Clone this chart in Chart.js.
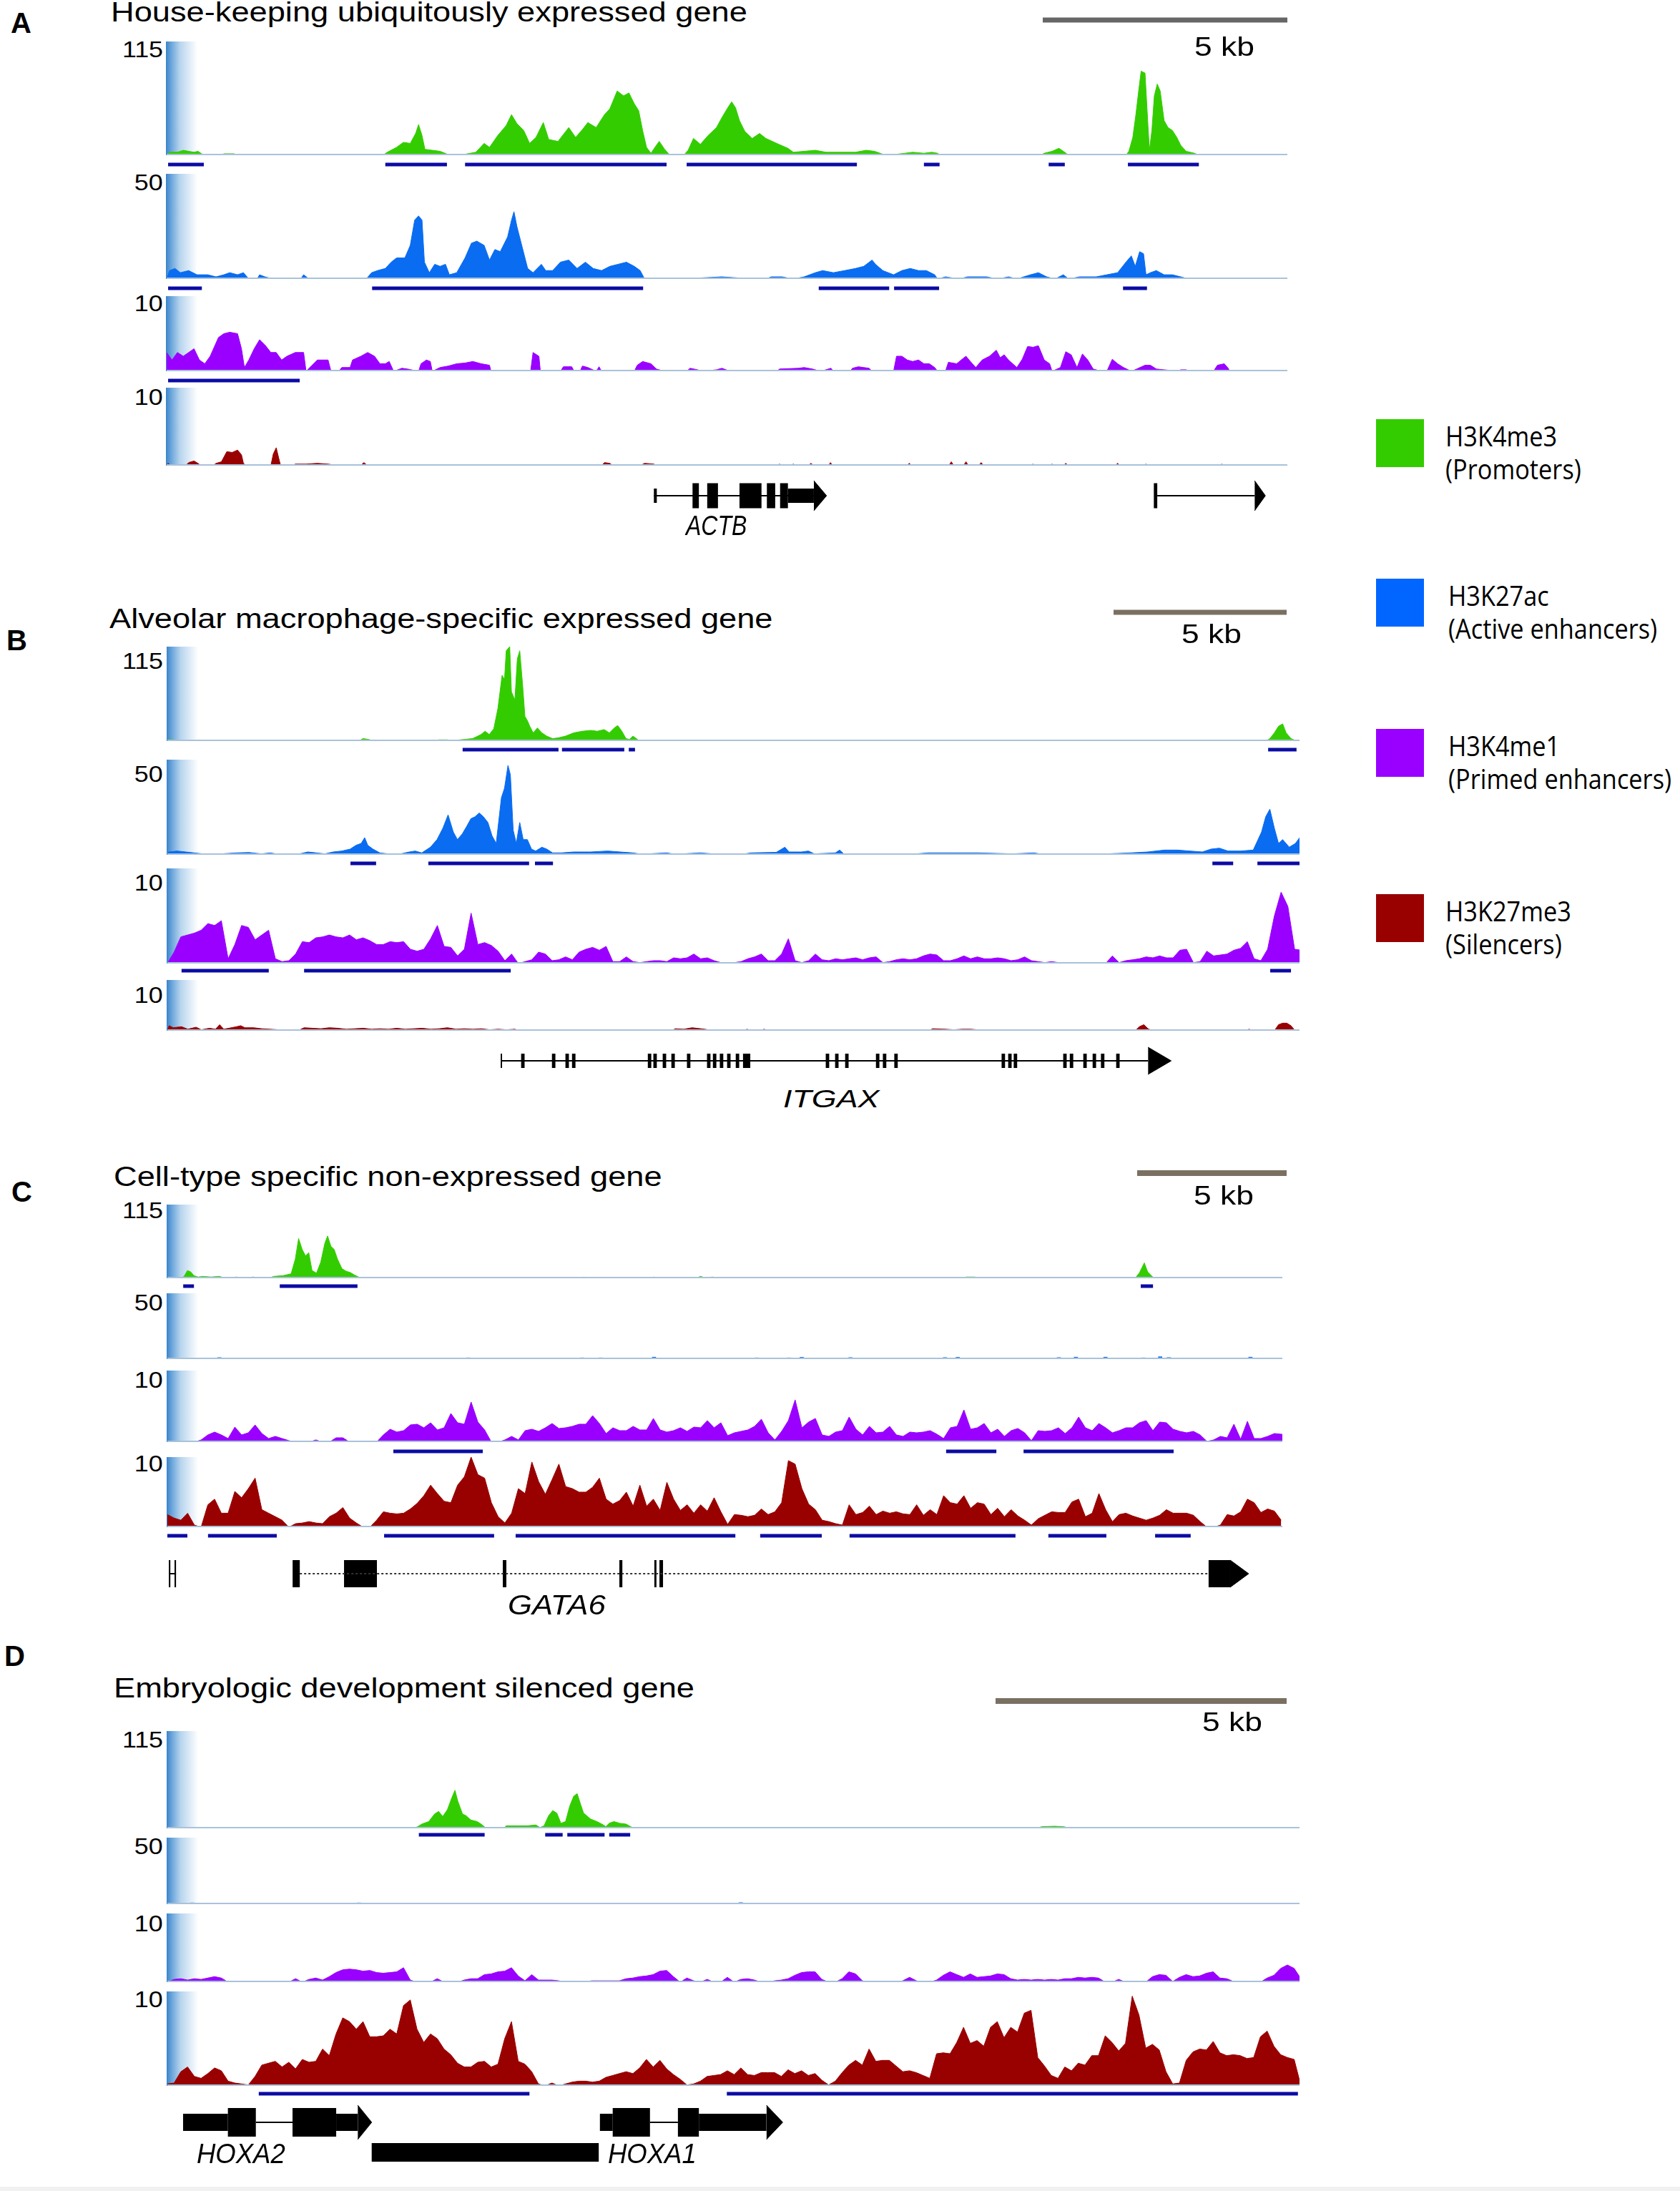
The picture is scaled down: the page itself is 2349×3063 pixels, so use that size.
<!DOCTYPE html>
<html>
<head>
<meta charset="utf-8">
<title>Histone marks at four loci</title>
<script src="https://cdn.jsdelivr.net/npm/chart.js"></script>
<style>
  html, body { margin:0; padding:0; background:#fff; }
  body { position:relative; width:2349px; height:3063px; overflow:hidden; }
  canvas { position:absolute; }
  .txt { position:absolute; white-space:nowrap; line-height:1; color:#000; font-family:"Liberation Sans", Arial, sans-serif; }
  .lg { font-family:"Open Sans", "Noto Sans", sans-serif; }
  .grad { position:absolute; width:44px; background:linear-gradient(to right, #3a84cb 0%, #6fa8dc 18%, #b8d5ee 45%, rgba(255,255,255,0) 100%); }
  .swatch { position:absolute; width:67px; height:67px; }
</style>
</head>
<body>
<script>
// ---- marks ----
var markNames = ['H3K4me3', 'H3K27ac', 'H3K4me1', 'H3K27me3'];
var markRoles = ['(Promoters)', '(Active enhancers)', '(Primed enhancers)', '(Silencers)'];
var markColors = ['#33cc00', '#0a6cf0', '#9900ff', '#990000'];
var legendColors = ['#33cc00', '#0066ff', '#9900ff', '#990000'];
var trackMax = [115, 50, 10, 10];
var maxLabels = ['115', '50', '10', '10'];
var panelLetters = ['A', 'B', 'C', 'D'];
var panelTitles = ['House-keeping ubiquitously expressed gene', 'Alveolar macrophage-specific expressed gene',
  'Cell-type specific non-expressed gene', 'Embryologic development silenced gene'];
var scaleBarKb = 5;

// ---- panel A (ACTB window), x in kb from window start ----
var aGreen = [[0,0],[0.06,3],[0.22,3],[0.34,5],[0.45,4],[0.56,3],[0.64,4],[0.73,1],[0.78,0],[1.12,0],[1.17,1.5],[1.38,1.5],[1.42,0],[4.42,0],[4.51,3],[4.70,8],[4.84,13],[4.98,12],[5.09,22],[5.15,31],[5.22,20],[5.28,6],[5.43,5],[5.59,4],[5.74,1],[6.10,1],[6.32,3],[6.49,12],[6.60,8],[6.77,20],[6.94,30],[7.05,41],[7.16,32],[7.30,25],[7.42,12],[7.55,18],[7.70,33],[7.81,16],[8.00,14],[8.22,28],[8.36,18],[8.50,26],[8.61,33],[8.78,28],[8.95,41],[9.06,47],[9.21,65],[9.34,60],[9.45,63],[9.56,52],[9.65,45],[9.73,25],[9.81,8],[9.90,2],[10.01,10],[10.07,14],[10.18,6],[10.29,0],[10.57,0],[10.66,5],[10.77,17],[10.91,11],[11.07,20],[11.24,28],[11.35,38],[11.47,48],[11.55,54],[11.63,48],[11.71,35],[11.82,24],[11.97,17],[12.12,22],[12.25,17],[12.47,12],[12.70,7],[12.81,3],[13.03,4],[13.26,5],[13.48,3],[13.86,3],[14.08,3],[14.30,5],[14.47,4],[14.64,1],[14.75,0],[15.09,2],[15.25,3],[15.48,2],[15.64,3],[15.76,2],[15.81,0],[16.87,0],[16.91,1],[16.96,0],[17.86,0],[17.94,2],[18.10,4],[18.24,7],[18.33,4],[18.44,0],[19.61,0],[19.67,4],[19.75,18],[19.81,40],[19.87,65],[19.92,85],[20.00,83],[20.06,30],[20.09,5],[20.14,25],[20.19,60],[20.25,72],[20.31,65],[20.39,35],[20.47,28],[20.56,25],[20.65,18],[20.73,10],[20.84,4],[21.01,2],[21.10,0],[22.9,0]];
var aBlue = [[0,0],[0.06,4],[0.17,5],[0.28,3],[0.45,4],[0.62,2],[0.84,2],[1.01,1],[1.17,2],[1.29,3],[1.45,2],[1.57,3],[1.68,0],[1.85,0],[1.90,2],[2.01,1],[2.18,0],[2.74,0],[2.80,2],[2.91,0],[4.08,0],[4.19,3],[4.31,4],[4.47,5],[4.59,8],[4.70,10],[4.87,10],[4.98,16],[5.07,28],[5.15,30],[5.22,28],[5.27,8],[5.37,3],[5.48,7],[5.59,6],[5.70,7],[5.78,2],[5.93,3],[6.10,10],[6.23,17],[6.34,18],[6.49,16],[6.60,9],[6.71,14],[6.82,13],[6.97,20],[7.05,28],[7.10,32],[7.16,25],[7.27,15],[7.38,5],[7.49,3],[7.66,7],[7.75,4],[7.89,4],[8.05,8],[8.22,9],[8.39,5],[8.56,8],[8.72,5],[8.89,4],[9.06,6],[9.23,7],[9.40,8],[9.56,6],[9.68,4],[9.77,0],[9.96,0.5],[10.18,0],[10.68,0],[10.91,0.5],[11.35,1],[11.69,0.5],[11.80,0],[12.25,0],[12.36,1],[12.58,1],[12.81,0],[13.03,1],[13.26,3],[13.41,4],[13.63,3],[13.86,4],[14.08,5],[14.25,6],[14.42,9],[14.49,7],[14.64,4],[14.75,3],[14.86,2],[15.03,4],[15.20,5],[15.37,4],[15.53,4],[15.70,2],[15.76,0],[15.92,1],[16.20,0],[16.37,1],[16.54,1],[16.76,1],[16.99,0],[17.21,1],[17.38,0],[17.66,2],[17.82,3],[17.99,1],[18.16,0],[18.33,2],[18.44,0],[18.66,1],[19.00,1],[19.22,2],[19.44,3],[19.61,8],[19.72,11],[19.80,6],[19.89,13],[19.97,12],[20.02,2],[20.11,3],[20.23,4],[20.39,2],[20.56,2],[20.73,1],[20.90,0],[22.9,0]];
var aPurple = [[0,2.5],[0.11,1.5],[0.22,2.5],[0.34,2],[0.45,2.5],[0.56,3],[0.67,1.5],[0.78,1],[0.89,2],[1.06,4.5],[1.17,5],[1.29,5.2],[1.45,5],[1.53,3],[1.59,0.5],[1.68,1.5],[1.79,3],[1.90,4.2],[2.01,3.5],[2.13,2.5],[2.24,2.5],[2.35,1.5],[2.46,2],[2.63,2.5],[2.80,2.5],[2.85,0],[3.08,1.5],[3.30,1.5],[3.36,0],[3.52,0],[3.58,0.5],[3.75,0.5],[3.80,1.5],[3.97,2],[4.11,2.5],[4.25,2],[4.36,1],[4.47,1],[4.55,1.3],[4.64,0],[4.81,0.4],[4.92,0.3],[5.15,0],[5.20,1],[5.31,1.5],[5.39,1.3],[5.43,0],[5.59,0.5],[5.76,0.7],[5.93,1],[6.10,1.1],[6.26,1.3],[6.43,1],[6.60,0.8],[6.63,0],[7.44,0],[7.49,2.5],[7.61,2],[7.64,0],[8.05,0],[8.11,0.6],[8.28,0.6],[8.33,0],[8.45,0],[8.50,0.7],[8.61,0.5],[8.78,0],[8.84,0.6],[8.89,0],[9.56,0],[9.62,0.8],[9.73,1.3],[9.90,1],[10.01,0.3],[10.18,0],[10.63,0],[10.70,0.4],[10.85,0.2],[10.96,0],[11.24,0.2],[11.35,0.4],[11.52,0],[12.47,0],[12.53,0.3],[12.92,0.4],[13.03,0.5],[13.20,0.3],[13.37,0],[13.58,0.4],[13.63,0],[13.97,0],[14.02,0.4],[14.14,0.6],[14.25,0.5],[14.36,0.4],[14.42,0],[14.86,0],[14.92,2],[15.03,2],[15.14,1.5],[15.25,1.3],[15.37,1.5],[15.48,1],[15.59,1],[15.70,0.5],[15.76,0],[15.92,0],[15.98,1.2],[16.15,1],[16.26,1.6],[16.34,2],[16.43,1.3],[16.54,0.5],[16.67,1.5],[16.82,2],[16.96,2.8],[17.04,1.8],[17.12,2.2],[17.21,1.5],[17.38,0.5],[17.49,1.6],[17.60,3.3],[17.71,3.2],[17.82,3.4],[17.94,1.5],[18.05,1],[18.10,0],[18.27,0.5],[18.38,2.6],[18.49,2.2],[18.61,0.5],[18.72,2.3],[18.83,1.5],[18.94,0.3],[19.11,0],[19.22,0],[19.33,1.6],[19.44,1],[19.56,0.5],[19.72,0],[19.83,0.3],[20.00,0.8],[20.11,0.8],[20.23,0.3],[20.39,0.2],[20.67,0],[20.73,0.2],[20.84,0.2],[20.90,0],[21.40,0],[21.48,0.8],[21.62,1],[21.70,0.4],[21.73,0],[22.9,0]];
var aRed = [[0,0],[0.03,0.3],[0.08,0],[0.39,0],[0.45,0.4],[0.56,0.6],[0.64,0.3],[0.70,0],[0.95,0],[1.01,0.3],[1.12,0.5],[1.23,1.8],[1.34,1.7],[1.45,2],[1.53,1.4],[1.57,0.3],[1.62,0],[2.13,0],[2.18,1.5],[2.24,2.3],[2.29,1],[2.33,0],[2.57,0],[2.63,0.2],[2.85,0.2],[3.08,0.3],[3.30,0.2],[3.52,0],[3.97,0],[4.03,0.4],[4.11,0],[8.89,0],[8.95,0.4],[9.06,0.3],[9.12,0],[9.68,0],[9.77,0.3],[9.96,0.2],[10.01,0],[12.47,0],[12.53,0.2],[12.58,0],[12.75,0],[12.81,0.2],[12.86,0],[13.12,0],[13.17,0.3],[13.23,0],[13.53,0],[13.57,0.4],[13.61,0],[15.13,0],[15.18,0.3],[15.23,0],[15.99,0],[16.04,0.5],[16.09,0],[16.29,0],[16.34,0.5],[16.39,0],[16.60,0],[16.65,0.4],[16.70,0],[17.66,0],[17.71,0.2],[17.76,0],[18.05,0],[18.10,0.2],[18.15,0],[18.33,0],[18.38,0.3],[18.43,0],[19.39,0],[19.44,0.3],[19.49,0],[19.97,0],[20.02,0.2],[20.07,0],[21.52,0],[21.57,0.2],[21.62,0],[22.9,0]];
var aPeaksGreen = [[0.03,0.76],[4.47,5.73],[6.10,10.22],[10.63,14.11],[15.48,15.80],[18.03,18.36],[19.65,21.10]];
var aPeaksBlue = [[0.03,0.72],[4.20,9.74],[13.33,14.77],[14.87,15.79],[19.55,20.04]];
var aPeaksPurple = [[0.03,2.72]];
var actbIntron = [[9.96,13.23],[20.25,22.24]];
var actbUtr = [[9.96,10.02],[12.70,13.23]];
var actbExon = [[10.75,10.88],[11.05,11.27],[11.71,12.16],[12.27,12.44],[12.54,12.70],[20.18,20.25]];
var actbArrow = [[13.23,13.49],[22.24,22.46]];

// ---- panel B (ITGAX window) ----
var bGreen = [[0,0],[0.04,2],[0.28,1],[0.41,0],[0.98,0],[1.02,0.8],[1.06,0],[2.58,0],[2.62,0.8],[2.66,0],[3.54,0],[3.60,1.2],[4.18,1],[4.23,0],[5.53,0],[5.65,3],[5.82,2],[5.96,0],[7.72,0],[7.84,1.5],[8.09,1.5],[8.21,0],[8.45,1.5],[8.82,3],[9.06,8],[9.18,12],[9.30,8],[9.43,15],[9.55,40],[9.67,80],[9.74,75],[9.79,110],[9.89,115],[9.94,60],[10.04,50],[10.11,100],[10.18,110],[10.26,70],[10.33,30],[10.40,25],[10.47,18],[10.57,10],[10.69,16],[10.82,10],[10.96,6],[11.13,3],[11.30,4],[11.50,6],[11.74,10],[11.99,12],[12.23,13],[12.42,12],[12.62,14],[12.77,10],[12.91,16],[13.01,19],[13.13,12],[13.25,3],[13.35,2],[13.45,6],[13.55,3],[13.64,0],[13.94,0],[14.18,1],[14.42,1],[14.55,0],[30.88,0],[31.00,1],[31.12,0],[31.73,0],[31.85,3],[31.98,10],[32.10,18],[32.22,21],[32.32,10],[32.46,3],[32.63,0],[32.71,0]];
var bBlue = [[0,0],[0.04,1.5],[0.28,2],[0.53,1.5],[0.77,1],[1.02,0.5],[1.38,0.3],[1.99,1],[2.36,1.2],[2.72,0.5],[2.97,1],[3.21,0.3],[3.82,0.5],[4.06,1.5],[4.31,1],[4.55,0.5],[4.79,1.5],[5.04,2],[5.28,3],[5.45,5],[5.60,6],[5.70,9],[5.79,5],[5.94,3],[6.14,1],[6.38,0.5],[6.74,0.5],[6.99,1.5],[7.16,2],[7.35,1],[7.60,4],[7.79,8],[7.96,14],[8.11,21],[8.26,12],[8.38,8],[8.52,11],[8.65,15],[8.77,19],[8.89,20],[9.01,22],[9.13,20],[9.26,17],[9.38,10],[9.50,6],[9.65,30],[9.74,35],[9.84,47],[9.91,42],[9.99,13],[10.08,6],[10.18,17],[10.28,8],[10.40,8],[10.52,3],[10.64,2],[10.82,4],[10.96,3],[11.13,1],[11.38,1],[11.74,1.5],[12.23,1.5],[12.72,2],[13.08,1.5],[13.45,1],[13.69,0.3],[14.42,1],[14.67,0.3],[15.40,1],[15.89,0.3],[16.62,0.3],[16.86,1],[17.59,1.3],[17.84,4],[17.96,1.5],[18.32,1.5],[18.52,2],[18.69,0.5],[19.30,1],[19.42,2.5],[19.54,0.5],[20.28,0.5],[21.49,0.3],[21.98,1],[22.71,1],[23.44,1],[24.42,0.5],[25.03,1],[25.27,0.3],[26.86,0.3],[27.83,1],[28.32,1.5],[28.81,2.5],[29.17,2.5],[29.54,2],[29.90,1.5],[30.15,3],[30.39,3.5],[30.64,2],[31.00,2],[31.37,2.5],[31.61,12],[31.73,20],[31.85,24],[31.98,14],[32.10,6],[32.22,8],[32.41,4],[32.59,6],[32.71,9]];
var bPurpleStep = 0.195;
var bPurple = [0,1.2,2.8,3,3.2,3.5,4.2,4,4.5,0.5, 2,4,3.8,2.5,3,3.5,0.5,0.2,0.3,1, 2.3,2.2,2.7,2.8,3,2.8,2.7,3,2.5,2.7,
  2.4,2,2,2.3,2.2,2.3,1.5,1.3,1.5,2.6, 4,1.8,1.7,0.8,1.5,5.3,2,2.2,1.9,1.3, 0.3,1,0,0.2,0.4,1.2,1,0.3,0.4,0.7,
  0.4,1.2,1.5,1.7,1.4,1.8,0.2,0.2,0.7,0.2, 0.1,0.2,0.3,0.3,0.2,0.6,0.5,0.6,1,0.5, 0.6,0.3,0.1,0.1,0.1,0.2,0.5,0.7,1,0.3,
  0.3,1,2.6,0.3,0.1,0.3,1,0.4,0.3,0.5, 0.4,0.5,0.6,0.4,0.6,0.7,0.1,0.2,0.4,0.5, 0.4,0.5,0.8,1,0.9,0.3,0.3,0.5,0.8,0.5,
  0.7,0.5,0.5,0.6,0.5,0.3,0.4,0.7,0.3,0.2, 0.1,0.2,0.1,0.1,0,0,0,0,0,0, 0.8,0.1,0.3,0.4,0.5,0.7,0.6,0.8,0.6,0.6,
  1.4,1.5,0.1,0.2,1.3,0.8,0.9,1,1.4,1.6, 2.3,0.5,0.3,1.5,5,7.5,6,1.5,1.4];
var bRed = [[0,0],[0.05,1],[0.17,0.6],[0.41,0.8],[0.59,0.3],[0.83,0.7],[0.98,0.2],[1.22,0.5],[1.39,0.3],[1.51,1.2],[1.63,0.3],[2.00,0.8],[2.12,1],[2.24,0.6],[2.49,0.6],[2.73,0.4],[2.97,0.3],[3.22,0.2],[3.46,0.1],[3.83,0.2],[3.95,0.6],[4.19,0.5],[4.44,0.4],[4.68,0.6],[4.92,0.5],[5.17,0.3],[5.41,0.4],[5.66,0.5],[5.90,0.3],[6.14,0.4],[6.39,0.3],[6.63,0.5],[6.87,0.3],[7.12,0.4],[7.36,0.5],[7.61,0.3],[7.85,0.4],[8.09,0.6],[8.34,0.3],[8.58,0.4],[8.83,0.3],[9.07,0.4],[9.31,0.2],[9.56,0.3],[9.80,0.2],[10.04,0.3],[10.17,0],[11.38,0],[11.46,0.2],[11.56,0],[14.55,0],[14.68,0.4],[14.92,0.3],[15.16,0.6],[15.53,0.3],[15.77,0],[16.63,0],[16.75,0.3],[16.87,0],[17.11,0],[17.24,0.3],[17.36,0],[20.53,0],[20.65,0.2],[20.77,0],[21.99,0],[22.11,0.4],[22.48,0.3],[22.72,0.2],[22.96,0.3],[23.21,0.3],[23.40,0.2],[23.70,0],[27.96,0],[28.08,0.8],[28.21,1.2],[28.33,0.4],[28.45,0],[29.18,0],[29.30,0.2],[29.42,0],[29.79,0],[29.91,0.2],[30.03,0],[30.52,0],[30.64,0.2],[30.77,0],[31.13,0],[31.25,0.3],[31.37,0],[31.98,0],[32.10,1.2],[32.22,1.5],[32.34,1.5],[32.46,1],[32.58,0],[32.71,0]];
var bPeaksGreen = [[8.53,11.30],[11.40,13.20],[13.33,13.51],[31.80,32.62]];
var bPeaksBlue = [[5.29,6.03],[7.54,10.45],[10.62,11.14],[30.19,30.79],[31.49,32.71]];
var bPeaksPurple = [[0.41,2.93],[3.95,9.92],[31.86,32.46]];
var itgaxIntron = [[9.65,28.33]];
var itgaxExon = [[9.63,9.67],[10.22,10.32],[11.11,11.21],[11.50,11.60],[11.69,11.79],[13.88,13.98],[14.04,14.14],[14.31,14.41],[14.56,14.66],[15.01,15.11],[15.59,15.69],[15.76,15.86],[15.96,16.06],[16.17,16.27],[16.42,16.52],[16.63,16.84],[19.02,19.12],[19.29,19.39],[19.58,19.68],[20.47,20.57],[20.67,20.77],[21.00,21.10],[24.10,24.20],[24.29,24.39],[24.45,24.55],[25.88,25.98],[26.07,26.17],[26.46,26.56],[26.73,26.83],[26.97,27.07],[27.41,27.51]];
var itgaxArrow = [[28.33,29.0]];

// ---- panel C (GATA6 window) ----
var cGreen = [[0,0],[0.47,0],[0.56,3],[0.67,12],[0.78,10],[0.89,4],[1.03,2],[1.18,3],[1.46,2],[1.74,3],[1.88,1],[2.17,1],[2.31,2],[2.59,0.5],[2.87,2],[3.01,1],[3.43,1],[3.57,3],[3.86,4],[4.14,7],[4.28,30],[4.39,62],[4.51,45],[4.62,35],[4.73,40],[4.84,12],[4.99,8],[5.13,25],[5.27,55],[5.36,66],[5.47,50],[5.58,45],[5.69,30],[5.84,15],[5.98,11],[6.12,9],[6.26,5],[6.40,2],[6.54,0],[8.66,0],[8.80,1],[8.94,0],[10.07,0],[10.21,1.5],[10.35,0],[11.20,0],[11.28,1],[11.37,0],[12.04,0],[12.13,1],[12.21,0],[13.82,0],[13.93,2],[14.05,0],[16.14,0],[16.28,2],[16.42,0],[17.69,0],[17.83,3],[17.97,1],[18.25,2],[18.39,0],[20.79,0],[20.90,1],[21.02,0],[26.58,0],[26.72,2],[27.00,2],[27.14,1],[27.43,1],[27.57,0],[32.37,0],[32.51,8],[32.68,24],[32.79,10],[32.96,2],[33.08,0],[37.3,0]];
var cBlue = [[1.74,1.2],[7.81,0.5],[8.74,0.5],[10.07,1],[10.49,0.8],[13.87,1],[14.16,0.8],[14.49,1],[15.29,0.6],[16.28,1.5],[16.70,0.8],[17.83,0.5],[18.05,0.5],[19.18,0.5],[19.72,1],[20.79,1],[21.22,1.4],[21.50,0.8],[22.06,0.8],[22.85,1.2],[23.47,0.6],[24.66,0.5],[25.16,0.5],[26.01,1.2],[26.44,1.4],[28.70,0.6],[29.26,0.8],[29.82,1.2],[30.39,1.5],[31.38,1.5],[31.94,0.8],[32.65,1],[33.21,1.8],[33.50,1.2],[34.06,0.6],[34.48,0.5],[35.61,0.8],[36.23,1.5],[36.74,0.5]];
var cStep = 0.2258;
var cPurple = [0,0,0,0,0,0.3,1,1.4,1,0.5, 2.1,1,1.3,2.4,1.2,0.5,0.8,0.5,0.2,0, 0,0,0.3,0,0,0.6,0.6,0,0,0,
  0,0,1,1.8,1.4,1.6,2.4,2.5,2,2.7, 1.7,2,4,2.7,2.5,5.6,2.8,1.7,0,0, 0.3,0.8,0.3,1.6,1.8,1.5,2,2.6,1.9,2,
  2.2,2.5,2.5,3.7,2.6,1.2,2,1.6,1.6,2.2, 1.7,1.7,3.3,1.7,1.4,1.6,2,1.5,2.1,2, 3,2,2.7,0.9,1.3,1.5,1.7,2.2,3.2,1.3,
  0.3,1.5,3,5.9,2,2.8,3.3,1,0.8,1.4, 1.6,3.5,1.8,1,2.2,1.3,1.4,2.2,1,0.8, 1.4,1.3,1.4,1.6,1.1,0.5,2,2.2,4.5,1.8,
  2,2.6,1.3,1.8,0.8,1.6,1.9,1.3,0.2,1.6, 1.5,1.6,2,1.2,2,3.5,2,1.6,2.6,2, 1.3,1.6,2,2,2.7,3,1.6,2.8,2.7,1.8,
  1.5,1.3,1.5,1,0.1,0.3,0.8,0.6,2.5,0.4, 2.9,0.5,0.5,0.8,1.2,1.1,1];
var cRed = [1.8,1.3,1,2,0.3,0,3.2,4,2,2, 5.1,4.2,5.5,7,2.5,2,1.5,1,0,0.5, 0.6,0.8,0.6,0.5,1.5,2,2.8,1.3,0.6,0,
  0,1,2.2,2,1.9,2,2.6,3.4,4.5,6, 4.8,3.7,3.5,6,7.2,10,7.5,7,3.5,1.5, 0.6,2,5.5,4.8,9.3,6.5,4.7,6.8,9,5.8,
  5.5,5,5,5.7,7,4,3.3,3.8,5,3, 6,3,4,2.4,6.4,4,2.4,3.2,2,3.2, 2.3,4.2,2.2,0.4,1.8,1.7,1.5,1.7,2.6,1.8,
  2.2,3.5,9.5,9,5.5,3.3,2.5,1,0.8,0.5, 0.3,3.2,1.8,2.1,3,1.8,2.3,2,2.2,1.9, 1.8,3.2,1.7,2.5,1.8,4.5,3.5,3.3,4.5,2.7,
  3.5,3.3,1.8,2.7,1.5,2.5,1.6,1,0.3,1.2, 1.7,2.2,2.1,2.1,3.6,4,1.5,2,4.8,2.5, 0.8,1.8,2,1.6,1.3,1,1.3,1.7,2.5,2,
  2,2,1.7,0.8,0,0,0.3,1.8,1.6,2.2, 4,3.5,2.1,2.6,2.3,1];
var cPeaksGreen = [[0.53,0.89],[3.76,6.36],[32.56,32.97]];
var cPeaksPurple = [[7.56,10.55],[26.05,27.73],[28.64,33.66]];
var cPeaksRed = [[0,0.67],[1.36,3.66],[7.25,10.93],[11.65,19.00],[19.83,21.89],[22.82,28.37],[29.47,31.41],[33.04,34.23]];
var gata6Intron = [[0.05,0.29]];
var gata6Dotted = [[4.43,34.83]];
var gata6Exon = [[0.05,0.10],[0.24,0.29],[4.19,4.43],[5.91,7.01],[11.22,11.34],[15.12,15.22],[16.29,16.36],[16.46,16.58],[34.83,35.55]];
var gata6Arrow = [[35.55,36.17]];

// ---- panel D (HOXA1/HOXA2 window) ----
var dGreen = [[0,0],[1.98,0],[2.02,1],[2.07,0],[3.55,0],[3.60,1],[3.68,0],[4.11,0],[4.16,1],[4.23,0],[4.30,2],[4.37,5],[4.49,8],[4.59,17],[4.66,20],[4.73,14],[4.81,22],[4.88,35],[4.94,45],[4.99,32],[5.07,17],[5.13,15],[5.21,10],[5.32,8],[5.39,5],[5.46,1],[5.53,0],[5.78,0],[5.82,3],[6.04,3],[6.18,3],[6.33,4],[6.40,1],[6.47,3],[6.55,15],[6.62,21],[6.69,18],[6.76,6],[6.84,8],[6.91,26],[6.98,38],[7.04,41],[7.10,28],[7.15,18],[7.27,11],[7.38,8],[7.49,4],[7.53,2],[7.59,6],[7.67,8],[7.77,6],[7.88,5],[7.96,2],[8.02,0],[8.14,1],[8.28,1],[8.36,0],[8.50,1],[8.57,0],[11.04,0],[11.08,1],[11.14,0],[12.42,0],[12.46,1],[12.50,0],[14.92,0],[15.02,2],[15.24,2.5],[15.39,2],[15.53,0],[19.45,0]];
var dBlue = [[0.43,1],[0.53,0.5],[3.14,0.8],[3.29,1],[3.43,0.5],[3.72,0.8],[3.94,0.5],[4.16,0.7],[4.81,0.6],[6.69,0.4],[8.21,0.4],[9.85,1.2],[9.95,0.8],[10.10,0.5],[10.68,0.6],[11.16,0.5],[11.80,0.8],[14.95,0.5]];
var dStep = 0.1159;
var dPurple = [0,0.4,0.5,0.3,0.5,0.4,0.6,0.8,0.6,0, 0,0,0,0,0,0,0,0,0,0.5, 0,0.4,0.6,0.3,0.8,1.4,1.8,1.9,1.8,1.6,
  1.7,1.4,1.3,1.4,1.5,2.1,0.3,0,0,0, 0.5,0,0,0,0.3,0.5,0.5,1.1,1.2,1.5, 1.6,2.1,0.9,0.2,1.1,0.3,0.3,0.3,0.2,0,
  0,0.1,0.1,0.2,0.2,0.2,0.2,0.2,0.5,0.6, 0.8,0.9,1.1,1.6,1.7,0.8,0,0.6,0.2,0, 0.4,0,0,0.7,0,0.4,0.5,0.3,0,0,
  0.2,0.3,0.5,1,1.4,1.5,1.5,0.4,0,0, 0.5,1.5,1.2,0.2,0,0,0,0.1,0,0.2, 0.7,0.2,0,0,0.3,1,1.5,1.1,0.7,1.2,
  0.7,0.8,0.9,1.2,1.1,0.5,0.3,0.4,0.3,0.4, 0.3,0.4,0.3,0.5,0.5,0.7,0.6,0.7,0.6,0, 0,0.4,0,0,0,0,0.8,1.1,1,0.1,
  0.7,1.1,0.8,0.9,1.3,1.5,0.6,0.5,0.1,0, 0,0,0,0.6,1,2,2.5,2,0.5];
var dRed = [0.2,0.3,1.5,2,1,0.8,1.3,1.9,1.6,0.5, 0.3,0.2,0.1,1,2.2,2.4,2.6,2,2.5,1.8, 2.8,2.5,2.6,3.9,3.2,5.5,7.2,6.8,6,6.8,
  5.2,5.2,5.3,6,5.5,8.5,9.1,6,4.6,5.5, 5,3.9,3.3,2.4,2,2,2.5,2.6,2,2.3, 5,6.8,2.6,2.3,1.5,0.2,0,0.3,0,0.2,
  0.4,0.5,0.5,0.4,0.5,0.9,1.1,1.3,1.5,1.3, 1.9,2.8,2,2.7,1.8,1.2,0.7,0.1,0.2,0.5, 1,1.1,1.2,1.6,1.2,1.9,1.2,1.1,1.4,1.4,
  1.4,1,1.7,1.3,1.6,1.1,1.3,0.6,0.1,0.5, 1.4,2.2,2.7,2.2,3.9,2.6,2.7,2.7,2.1,1.5, 1.6,1.4,1.1,0.8,3.4,3.5,3.4,4.6,6.2,4.5,
  4.8,4.2,6.2,6.8,5.1,6.2,5.7,7.7,8,3, 2.1,1.1,0.8,2,1.6,2.4,2.2,3.2,3.2,5.3, 4.6,3.7,4.5,9.5,7.5,4,4.4,3.8,1.5,0.2,
  0.3,2.7,3.6,3.9,3.8,4.7,3.5,3.2,3.3,3.2, 2.9,3,5.2,5.8,4.2,3.3,3,2.8,0];
var dPeaksGreen = [[4.32,5.45],[6.49,6.79],[6.87,7.51],[7.59,7.95]];
var dPeaksRed = [[1.57,6.22],[9.61,19.42]];
var hoxIntron = [[1.52,2.15],[8.29,8.77]];
var hoxUtr = [[0.27,1.04],[2.90,3.27],[7.43,7.65],[9.13,10.29]];
var hoxCds = [[1.04,1.52],[2.15,2.90],[7.65,8.29],[8.77,9.13]];
var hoxArrow = [[3.27,3.51],[10.29,10.57]];
var hoxBlock = [[3.51,7.41]];
var geneNames = ['ACTB', 'ITGAX', 'GATA6', 'HOXA2', 'HOXA1'];

// ---------- helpers ----------
function pairs(p) { return p.map(function (d) { return {x: d[0], y: d[1]}; }); }
function steps(v, step) { return v.map(function (y, i) { return {x: i * step, y: y}; }); }

function newCanvas(x, y, w, h) {
  var c = document.createElement('canvas');
  c.width = Math.round(w); c.height = Math.round(h);
  c.style.left = x + 'px'; c.style.top = y + 'px';
  c.style.width = Math.round(w) + 'px'; c.style.height = Math.round(h) + 'px';
  document.body.appendChild(c);
  return c;
}

function quiet(xmax, ymin, ymax) {
  return {
    responsive: false, animation: false, devicePixelRatio: 1, events: [],
    layout: {padding: 0},
    plugins: {legend: {display: false}, tooltip: {enabled: false}},
    scales: {
      x: {type: 'linear', min: 0, max: xmax, display: false, offset: false},
      y: {type: 'linear', min: ymin, max: ymax, display: false}
    }
  };
}

var baseline = {
  id: 'baseline',
  afterDatasetsDraw: function (chart) {
    var ctx = chart.ctx, a = chart.chartArea, y = chart.scales.y.getPixelForValue(0);
    ctx.save();
    ctx.strokeStyle = '#a9c2d9'; ctx.lineWidth = 2;
    ctx.beginPath(); ctx.moveTo(a.left, y - 1); ctx.lineTo(a.right, y - 1); ctx.stroke();
    ctx.restore();
  }
};

function addText(str, x, base, size, sx, o) {
  o = o || {};
  var d = document.createElement('div');
  d.className = 'txt' + (o.lg ? ' lg' : '');
  d.textContent = str;
  d.style.fontSize = size + 'px';
  if (o.bold) d.style.fontWeight = 'bold';
  if (o.italic) d.style.fontStyle = 'italic';
  d.style.top = (base - (o.lg ? 0.888 : 0.8465) * size) + 'px';
  if (o.right) { d.style.right = (2349 - x) + 'px'; d.style.transformOrigin = '100% 0'; }
  else { d.style.left = x + 'px'; d.style.transformOrigin = '0 0'; }
  d.style.transform = 'scaleX(' + sx + ')';
  document.body.appendChild(d);
}

function signal(P, k, points, spikes) {
  var t = P.tracks[k], h = t[1] - t[0];
  var g = document.createElement('div');
  g.className = 'grad';
  g.style.left = (P.left - 1) + 'px'; g.style.top = t[0] + 'px'; g.style.height = h + 'px';
  document.body.appendChild(g);
  var c = newCanvas(P.left, t[0], P.width, h);
  var ds = spikes
    ? {data: points, backgroundColor: markColors[k], barThickness: 5}
    : {data: points, borderColor: markColors[k], backgroundColor: markColors[k], borderWidth: 1,
       fill: 'origin', pointRadius: 0, tension: 0};
  new Chart(c, {type: spikes ? 'bar' : 'line', data: {datasets: [ds]},
    options: quiet(P.kb, 0, trackMax[k]), plugins: [baseline]});
}

function peaks(P, y, list) {
  var c = newCanvas(P.left, y - 4, P.width, 8);
  var ds = list.map(function (iv) {
    return {data: [{x: iv[0], y: 0}, {x: iv[1], y: 0}], borderColor: '#0b0ba3', borderWidth: 5,
      borderCapStyle: 'butt', pointRadius: 0, fill: false};
  });
  new Chart(c, {type: 'line', data: {datasets: ds}, options: quiet(P.kb, -1, 1)});
}

function gene(P, G) {
  var H = G.height;
  var c = newCanvas(P.left, P.gene - 30, P.width, H);
  var ds = [];
  function seg(list, w, yv, dash, col) {
    (list || []).forEach(function (iv) {
      ds.push({data: [{x: iv[0], y: yv}, {x: iv[1], y: yv}], borderColor: col || '#000', borderWidth: w,
        borderCapStyle: 'butt', borderDash: dash || [], pointRadius: 0, fill: false});
    });
  }
  seg(G.intron, 2, 0);
  seg(G.dotted, 2, 0, [3, 3], '#333');
  seg(G.utr, G.utrH, 0);
  seg(G.exon, G.exonH, 0);
  seg(G.block, G.blockH, -G.rowGap);
  G.arrow.forEach(function (iv) {
    ds.push({data: [{x: iv[0], y: G.arrowH}, {x: iv[1], y: 0}], borderColor: '#000', borderWidth: 1,
      backgroundColor: '#000', fill: '+1', pointRadius: 0});
    ds.push({data: [{x: iv[0], y: -G.arrowH}, {x: iv[1], y: 0}], borderColor: '#000', borderWidth: 1,
      pointRadius: 0, fill: false});
  });
  new Chart(c, {type: 'line', data: {datasets: ds}, options: quiet(P.kb, -(H - 30), 30)});
}

function scaleBar(P) {
  var w = scaleBarKb * P.pxPerKb;
  var c = newCanvas(P.bar.right - w, P.bar.y - 6, w, 12);
  new Chart(c, {type: 'line',
    data: {datasets: [{data: [{x: 0, y: 0}, {x: scaleBarKb, y: 0}], borderColor: P.bar.color,
      borderWidth: P.bar.w, borderCapStyle: 'butt', pointRadius: 0}]},
    options: quiet(scaleBarKb, -1, 1)});
}

// ---------- layout (pixels) ----------
var panels = [
  {left: 233, width: 1567, pxPerKb: 68.4, tracks: [[58,217],[243,390],[414,519],[542,651]],
   peakY: [230,403,532], labelY: [80,266,435,566], gene: 693,
   letter: [15,46], title: [155,30], kbText: [1670,78],
   bar: {right: 1800, y: 28, w: 7, color: '#666666'},
   series: [pairs(aGreen), pairs(aBlue), pairs(aPurple), pairs(aRed)], spikes: [],
   peaks: [aPeaksGreen, aPeaksBlue, aPeaksPurple, null],
   geneModel: {height: 60, intron: actbIntron, utr: actbUtr, utrH: 20, exon: actbExon, exonH: 35, arrow: actbArrow, arrowH: 21},
   names: [[0, 959, 748, 39, 0.82]]},
  {left: 234, width: 1583, pxPerKb: 48.4, tracks: [[904,1036],[1062,1195],[1214,1347],[1370,1441]],
   peakY: [1048,1207,1357], labelY: [935,1093,1245,1402], gene: 1483,
   letter: [9,909], title: [153,878], kbText: [1652,899],
   bar: {right: 1799, y: 855.5, w: 7, color: '#7a7062'},
   series: [pairs(bGreen), pairs(bBlue), steps(bPurple, bPurpleStep), pairs(bRed)], spikes: [],
   peaks: [bPeaksGreen, bPeaksBlue, bPeaksPurple, null],
   geneModel: {height: 60, intron: itgaxIntron, exon: itgaxExon, exonH: 20, arrow: itgaxArrow, arrowH: 19},
   names: [[1, 1095, 1548, 35, 1.28]]},
  {left: 234, width: 1559, pxPerKb: 41.8, tracks: [[1684,1787],[1808,1900],[1916,2016],[2037,2135]],
   peakY: [1798,null,2029,2147], labelY: [1703,1832,1940,2057], gene: 2200,
   letter: [16,1680], title: [159,1658], kbText: [1669,1684],
   bar: {right: 1799, y: 1639.5, w: 8, color: '#7a7062'},
   series: [pairs(cGreen), pairs(cBlue), steps(cPurple, cStep), steps(cRed, cStep)], spikes: [1],
   peaks: [cPeaksGreen, null, cPeaksPurple, cPeaksRed],
   geneModel: {height: 60, intron: gata6Intron, dotted: gata6Dotted, exon: gata6Exon, exonH: 38, arrow: gata6Arrow, arrowH: 19},
   names: [[2, 710, 2257, 39, 1.12]]},
  {left: 234, width: 1583, pxPerKb: 81.4, tracks: [[2420,2556],[2569,2662],[2675,2771],[2784,2916]],
   peakY: [2565,null,null,2927], labelY: [2443,2592,2700,2806], gene: 2967,
   letter: [6,2329], title: [159,2373], kbText: [1681,2420],
   bar: {right: 1799, y: 2377.5, w: 8, color: '#7a7062'},
   series: [pairs(dGreen), pairs(dBlue), steps(dPurple, dStep), steps(dRed, dStep)], spikes: [1],
   peaks: [dPeaksGreen, null, null, dPeaksRed],
   geneModel: {height: 90, intron: hoxIntron, utr: hoxUtr, utrH: 24, exon: hoxCds, exonH: 40, arrow: hoxArrow, arrowH: 24,
     block: hoxBlock, blockH: 26, rowGap: 42},
   names: [[3, 275, 3024, 38, 0.96], [4, 850, 3024, 38, 0.96]]}
];

panels.forEach(function (P, p) {
  P.kb = P.width / P.pxPerKb;
  for (var k = 0; k < 4; k++) {
    signal(P, k, P.series[k], P.spikes.indexOf(k) >= 0);
    if (P.peaks[k]) peaks(P, P.peakY[k], P.peaks[k]);
    addText(maxLabels[k], 228, P.labelY[k], 32, 1.12, {right: true});
  }
  gene(P, P.geneModel);
  scaleBar(P);
  addText(panelLetters[p], P.letter[0], P.letter[1], 40, 1, {bold: true});
  addText(panelTitles[p], P.title[0], P.title[1], 38, 1.19);
  addText(scaleBarKb + ' kb', P.kbText[0], P.kbText[1], 37, 1.2);
  P.names.forEach(function (n) { addText(geneNames[n[0]], n[1], n[2], n[3], n[4], {italic: true}); });
});

// ---------- legend ----------
var legendTop = [586, 809, 1019, 1250];
var legendX = [2021, 2025, 2025, 2021];
markNames.forEach(function (m, i) {
  var s = document.createElement('div');
  s.className = 'swatch';
  s.style.left = '1924px'; s.style.top = legendTop[i] + 'px'; s.style.background = legendColors[i];
  document.body.appendChild(s);
  addText(m, legendX[i], legendTop[i] + 38, 39, 0.88, {lg: true});
  addText(markRoles[i], legendX[i], legendTop[i] + 84, 39, 0.88, {lg: true});
});

var strip = document.createElement('div');
strip.style.cssText = 'position:absolute;left:0;top:3057px;width:2349px;height:6px;background:#f1f1f1;';
document.body.appendChild(strip);
</script>
</body>
</html>
